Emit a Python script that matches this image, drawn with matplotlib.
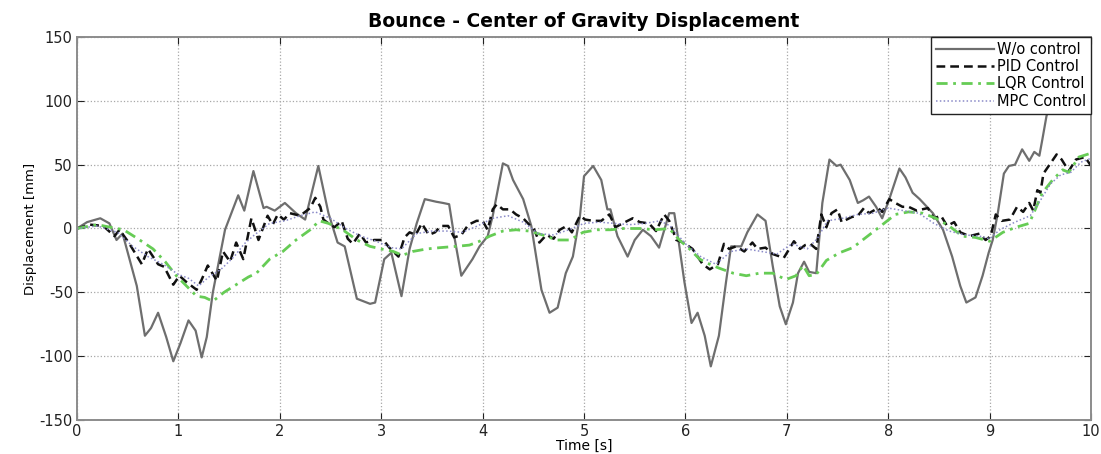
import numpy as np
import matplotlib.pyplot as plt

# Bounce - center of gravity displacement

wo_t = [0, 0.1, 0.23, 0.32, 0.39, 0.45, 0.59, 0.67, 0.73, 0.80,
        0.88, 0.95, 1.02, 1.10, 1.17, 1.23, 1.28, 1.34, 1.46, 1.59,
        1.65, 1.74, 1.84, 1.87, 1.95, 2.05, 2.16, 2.25, 2.38, 2.48,
        2.57, 2.64, 2.76, 2.89, 2.94, 3.03, 3.10, 3.20, 3.28, 3.35,
        3.43, 3.54, 3.61, 3.67, 3.72, 3.79, 3.90, 3.97, 4.05, 4.10,
        4.20, 4.25, 4.30, 4.40, 4.48, 4.58, 4.66, 4.74, 4.82, 4.89,
        4.96, 5.00, 5.09, 5.17, 5.23, 5.26, 5.33, 5.43, 5.50, 5.58,
        5.66, 5.74, 5.84, 5.89, 5.94, 5.99, 6.06, 6.12, 6.19, 6.25,
        6.33, 6.40, 6.45, 6.55, 6.61, 6.71, 6.79, 6.86, 6.93, 6.99,
        7.06, 7.11, 7.17, 7.22, 7.29, 7.35, 7.42, 7.49, 7.53, 7.62,
        7.70, 7.75, 7.81, 7.88, 7.94, 8.01, 8.11, 8.17, 8.24, 8.31,
        8.44, 8.54, 8.63, 8.71, 8.77, 8.86, 8.93, 8.99, 9.03, 9.08,
        9.14, 9.19, 9.25, 9.32, 9.39, 9.44, 9.49, 9.52, 9.56, 9.62,
        9.70, 9.80, 9.90, 10.0]
wo_v = [0, 5, 8, 4, -9, -4, -45, -84, -78, -66,
        -85, -104, -90, -72, -80, -101, -85, -50, -1, 26,
        14, 45, 16, 17, 14, 20, 12, 7, 49, 12,
        -11, -14, -55, -59, -58, -24, -19, -53, -16, 4,
        23, 21, 20, 19, -6, -37, -24, -14, -6, 10,
        51, 49, 38, 23, 2, -48, -66, -62, -35, -22,
        10, 41, 49, 38, 15, 15, -6, -22, -9, -1,
        -6, -15, 12, 12, -14, -42, -74, -66, -84, -108,
        -84, -42, -14, -14, -3, 11, 6, -29, -61, -75,
        -58, -35, -26, -34, -35, 20, 54, 49, 50, 38,
        20, 22, 25, 17, 8, 23, 47, 40, 28, 23,
        12, -1, -22, -45, -58, -54, -37, -19, -9, 12,
        43, 49, 50, 62, 53, 60, 57, 70, 88, 105,
        110, 108, 104, 96]

pid_t = [0, 0.13, 0.26, 0.37, 0.42, 0.51, 0.64, 0.70, 0.80, 0.86,
         0.95, 1.01, 1.08, 1.18, 1.23, 1.29, 1.38, 1.44, 1.51, 1.57,
         1.64, 1.72, 1.79, 1.88, 1.93, 1.98, 2.04, 2.10, 2.20, 2.30,
         2.35, 2.40, 2.43, 2.48, 2.54, 2.61, 2.67, 2.72, 2.79, 2.85,
         2.93, 3.02, 3.08, 3.17, 3.23, 3.28, 3.34, 3.40, 3.47, 3.53,
         3.59, 3.66, 3.72, 3.79, 3.86, 3.94, 4.00, 4.05, 4.10, 4.14,
         4.20, 4.27, 4.33, 4.40, 4.46, 4.51, 4.56, 4.63, 4.70, 4.76,
         4.83, 4.88, 4.96, 5.01, 5.09, 5.17, 5.25, 5.31, 5.38, 5.48,
         5.55, 5.64, 5.71, 5.79, 5.84, 5.91, 5.98, 6.07, 6.17, 6.24,
         6.32, 6.38, 6.43, 6.50, 6.58, 6.66, 6.71, 6.79, 6.86, 6.97,
         7.07, 7.13, 7.18, 7.23, 7.29, 7.34, 7.39, 7.44, 7.50, 7.54,
         7.59, 7.64, 7.70, 7.76, 7.81, 7.90, 7.94, 8.01, 8.07, 8.14,
         8.20, 8.28, 8.39, 8.45, 8.52, 8.58, 8.65, 8.71, 8.80, 8.90,
         8.96, 9.01, 9.06, 9.12, 9.20, 9.27, 9.33, 9.39, 9.43, 9.47,
         9.50, 9.53, 9.60, 9.66, 9.71, 9.78, 9.85, 9.94, 10.0]
pid_v = [0, 3, 2, -6, -1, -11, -28, -16, -28, -30,
         -44, -37, -42, -48, -40, -29, -41, -18, -26, -11,
         -24, 8, -9, 10, 3, 11, 7, 12, 10, 16,
         24, 17, 7, 4, 1, 6, -8, -12, -4, -11,
         -9, -9, -15, -22, -7, -3, -5, 4, -5, -3,
         2, 2, -7, -5, 3, 6, 6, -1, 15, 19,
         15, 15, 11, 8, 3, -1, -11, -5, -8, -1,
         2, -3, 10, 7, 6, 6, 11, 1, 4, 8,
         5, 4, -2, 11, 6, -9, -11, -16, -28, -32,
         -28, -12, -16, -14, -18, -11, -16, -15, -20, -23,
         -10, -16, -13, -12, -16, 11, 1, 12, 15, 5,
         7, 9, 10, 16, 12, 16, 13, 23, 20, 17,
         17, 14, 16, 8, 10, 2, 5, -3, -6, -4,
         -9, -6, 11, 6, 7, 17, 13, 20, 14, 30,
         28, 43, 51, 58, 54, 45, 54, 56, 49]

lqr_t = [0, 0.2, 0.46, 0.6, 0.75, 0.87, 0.98, 1.08, 1.18, 1.26,
         1.34, 1.45, 1.53, 1.61, 1.69, 1.77, 1.90, 2.03, 2.16, 2.30,
         2.39, 2.48, 2.62, 2.76, 2.89, 3.00, 3.12, 3.21, 3.31, 3.45,
         3.58, 3.74, 3.87, 3.97, 4.07, 4.20, 4.33, 4.46, 4.59, 4.73,
         4.86, 4.99, 5.13, 5.26, 5.39, 5.55, 5.70, 5.84, 5.94, 6.04,
         6.14, 6.24, 6.33, 6.47, 6.60, 6.73, 6.86, 6.99, 7.09, 7.16,
         7.22, 7.29, 7.39, 7.52, 7.65, 7.78, 7.91, 8.07, 8.20, 8.34,
         8.47, 8.60, 8.73, 8.86, 9.00, 9.13, 9.26, 9.39, 9.45, 9.52,
         9.62, 9.72, 9.78, 9.88, 10.0]
lqr_v = [0, 3, -1, -8, -16, -26, -37, -45, -53, -54,
         -57, -50, -46, -42, -38, -35, -24, -18, -9, -1,
         6, 4, -1, -9, -14, -16, -18, -21, -18, -16,
         -15, -14, -13, -10, -6, -2, -1, -2, -5, -9,
         -9, -3, -1, -1, 0, 0, -1, 0, -9, -16,
         -24, -28, -31, -35, -37, -35, -35, -40, -37, -29,
         -37, -36, -25, -19, -15, -7, 1, 11, 13, 12,
         8, 2, -6, -7, -10, -3, 1, 4, 15, 28,
         38, 46, 44, 56, 59]

mpc_t = [0, 0.2, 0.4, 0.55, 0.7, 0.85, 1.0, 1.1, 1.2, 1.3,
         1.42, 1.55, 1.65, 1.75, 1.9, 2.05, 2.2, 2.35, 2.5, 2.65,
         2.8, 2.95, 3.1, 3.2, 3.35, 3.5, 3.65, 3.8, 3.95, 4.1,
         4.25, 4.4, 4.55, 4.7, 4.85, 5.0, 5.15, 5.3, 5.45, 5.6,
         5.75, 5.85, 6.0, 6.15, 6.3, 6.45, 6.6, 6.75, 6.9, 7.05,
         7.2, 7.3, 7.4, 7.55, 7.7, 7.85, 8.0, 8.15, 8.3, 8.45,
         8.6, 8.75, 8.9, 9.0, 9.1, 9.25, 9.4, 9.5, 9.6, 9.7,
         9.8, 9.9, 10.0]
mpc_v = [0, 2, -3, -14, -22, -28, -36, -39, -45, -38,
         -32, -22, -12, -5, 4, 6, 10, 13, 8, 0,
         -6, -10, -15, -16, -4, -2, -2, -3, 2, 8,
         10, 5, -4, -5, -1, 4, 5, 4, 3, 4,
         6, 2, -12, -22, -28, -18, -16, -18, -20, -12,
         -16, -8, 6, 8, 11, 12, 16, 14, 12, 4,
         -2, -5, -6, -8, -1, 5, 10, 22, 35, 42,
         44, 52, 55]

labels = ['W/o control', 'PID Control', 'LQR Control', 'MPC Control']

plt.rcParams['font.family'] = ['DejaVu Sans']
plt.rcParams['axes.unicode_minus'] = False

fig = plt.figure(figsize=(11.01, 4.54), dpi=100)
ax = fig.add_axes([0.0699, 0.0749, 0.9211, 0.8436])

ax.plot(wo_t, wo_v, color='#6e6e6e', lw=1.6, ls='-', label=labels[0])
ax.plot(pid_t, pid_v, color='#111111', lw=1.8, ls=(0, (3.5, 2)), label=labels[1])
ax.plot(lqr_t, lqr_v, color='#66cc55', lw=2.0, ls=(0, (4, 2, 1, 2)), label=labels[2])
ax.plot(mpc_t, mpc_v, color='#8a8ac8', lw=1.1, ls=(0, (1, 1.5)), label=labels[3])

ax.set_xlim(0, 10)
ax.set_ylim(-150, 150)
ax.set_xticks(np.arange(0, 11, 1))
ax.set_yticks(np.arange(-150, 151, 50))
ax.grid(True, color='#a8a8a8', ls=':', lw=0.9)
ax.tick_params(direction='in', top=True, right=True, length=5, labelsize=10.5,
               colors='#222222', pad=3)
for s in ax.spines.values():
    s.set_color('#8c8c8c')
    s.set_linewidth(1.4)

ax.set_title('Bounce - Center of Gravity Displacement', fontsize=13.5,
             fontweight='bold', pad=7)
ax.set_xlabel('Time [s]', fontsize=10, labelpad=0)
ax.set_ylabel('Displacement [mm]', fontsize=9.5, labelpad=2)

leg = ax.legend(loc='upper right', fontsize=10.5, handlelength=4.0,
                borderaxespad=0, fancybox=False, framealpha=1,
                borderpad=0.35, labelspacing=0.15, handletextpad=0.2)
leg.get_frame().set_edgecolor('#222222')
leg.get_frame().set_linewidth(1.0)

fig.savefig('out.png', dpi=100)
